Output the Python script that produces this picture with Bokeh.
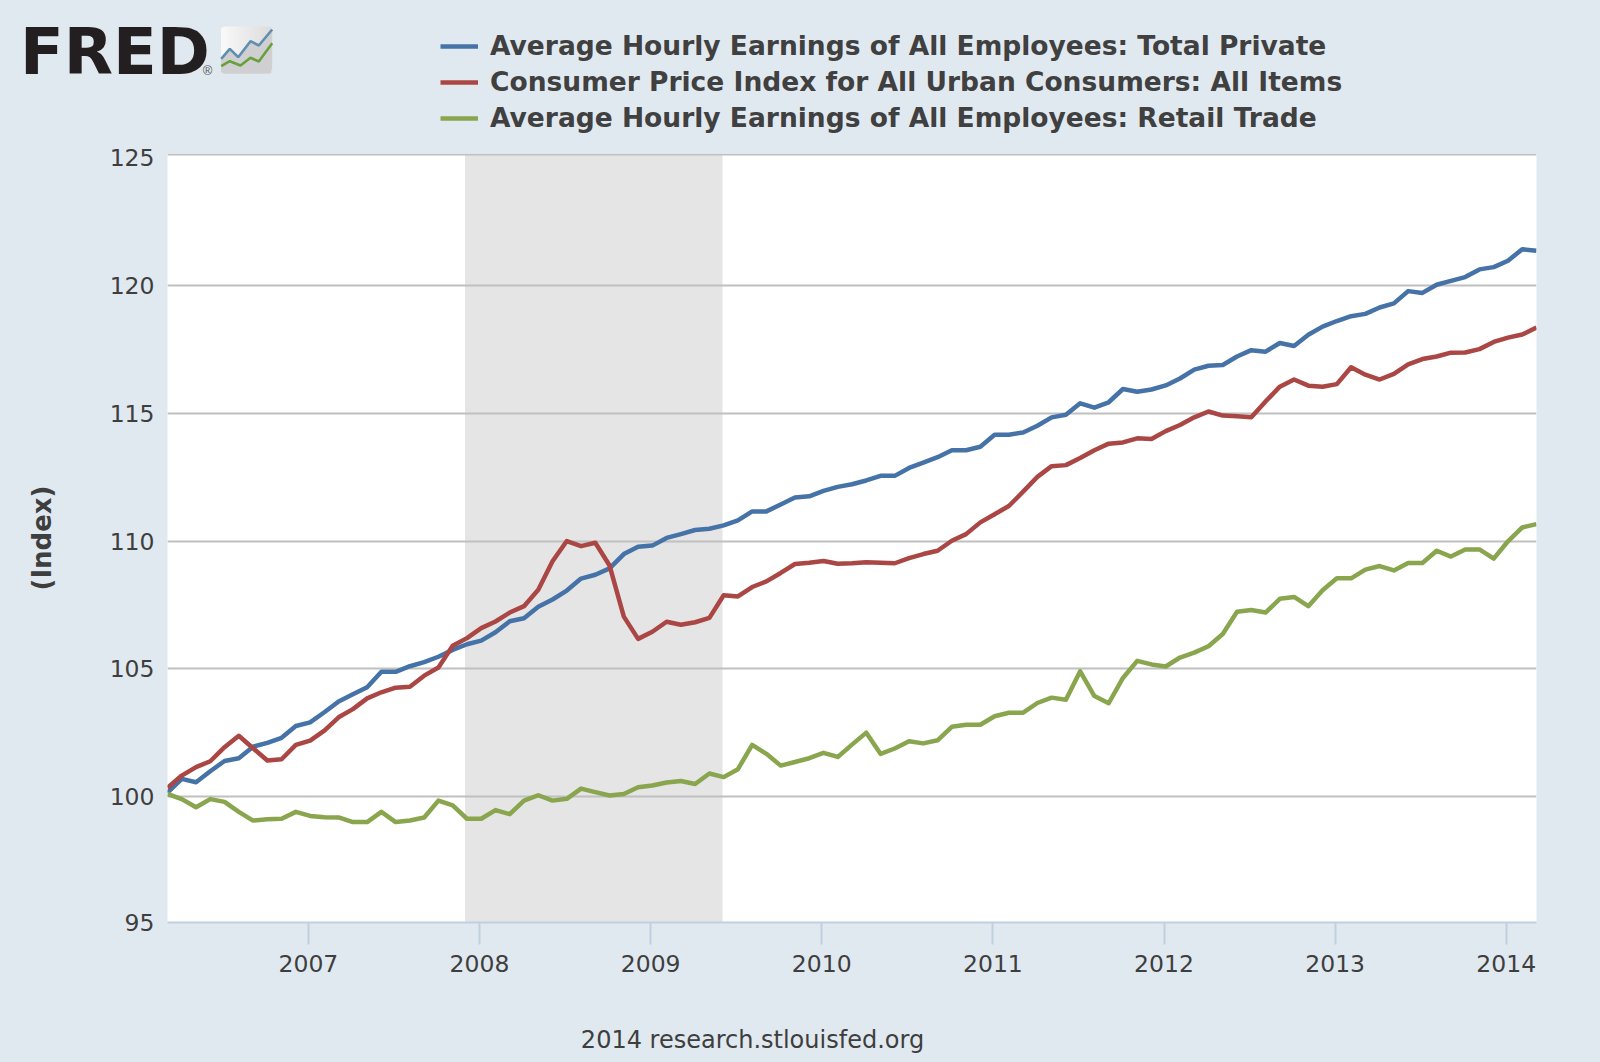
import numpy as np
from bokeh.plotting import figure
from bokeh.embed import file_html
from bokeh.resources import INLINE
from bokeh.core.properties import value
from bokeh.models import Range1d, FixedTicker, Legend, LegendItem

# ---- data (monthly index values, first point at the left edge of the chart)
TOTAL_PRIVATE = [
    100.15,100.69,100.56,100.99,101.39,101.50,101.95,102.10,102.30,102.76,
    102.90,103.30,103.72,104.00,104.28,104.88,104.88,105.10,105.26,105.47,
    105.74,105.96,106.10,106.43,106.86,106.98,107.43,107.71,108.06,108.53,
    108.68,108.93,109.49,109.78,109.82,110.12,110.27,110.43,110.48,110.61,
    110.81,111.16,111.16,111.43,111.70,111.75,111.96,112.12,112.22,112.37,
    112.55,112.55,112.86,113.07,113.28,113.55,113.55,113.69,114.16,114.16,
    114.25,114.51,114.84,114.94,115.39,115.22,115.43,115.95,115.84,115.93,
    116.09,116.36,116.71,116.86,116.89,117.22,117.47,117.41,117.75,117.63,
    118.07,118.39,118.61,118.80,118.89,119.14,119.30,119.78,119.71,120.03,
    120.18,120.33,120.63,120.72,120.97,121.42,121.36]
CPI_ALL = [
    100.34,100.82,101.15,101.38,101.93,102.38,101.89,101.41,101.46,102.02,
    102.19,102.58,103.10,103.42,103.84,104.08,104.26,104.30,104.73,105.05,
    105.90,106.20,106.59,106.85,107.20,107.45,108.09,109.21,110.00,109.80,
    109.93,109.04,107.04,106.17,106.45,106.84,106.72,106.82,106.99,107.88,
    107.83,108.20,108.42,108.75,109.10,109.15,109.22,109.11,109.13,109.17,
    109.15,109.13,109.33,109.49,109.62,110.01,110.27,110.73,111.05,111.37,
    111.93,112.51,112.93,112.97,113.25,113.55,113.81,113.86,114.02,113.99,
    114.30,114.54,114.84,115.07,114.91,114.88,114.84,115.46,116.04,116.32,
    116.08,116.04,116.14,116.80,116.51,116.32,116.54,116.91,117.12,117.22,
    117.37,117.38,117.51,117.79,117.96,118.08,118.36]
RETAIL = [
    100.10,99.90,99.58,99.90,99.79,99.40,99.06,99.11,99.13,99.40,
    99.24,99.19,99.18,99.00,99.00,99.40,99.00,99.06,99.18,99.84,
    99.65,99.13,99.13,99.47,99.31,99.84,100.05,99.84,99.91,100.31,
    100.17,100.04,100.10,100.36,100.43,100.55,100.61,100.49,100.90,100.76,
    101.07,102.02,101.67,101.21,101.35,101.50,101.71,101.55,102.03,102.50,
    101.67,101.88,102.16,102.08,102.20,102.73,102.81,102.81,103.14,103.28,
    103.28,103.66,103.87,103.79,104.90,103.93,103.65,104.64,105.31,105.17,
    105.09,105.44,105.63,105.88,106.36,107.23,107.30,107.20,107.74,107.81,
    107.45,108.07,108.54,108.54,108.88,109.02,108.85,109.14,109.14,109.62,
    109.39,109.67,109.67,109.31,109.99,110.53,110.66]
YEARS = [2007, 2008, 2009, 2010, 2011, 2012, 2013, 2014]
RECESSION = [2007.915, 2009.42]
SERIES_NAMES = ["Average Hourly Earnings of All Employees: Total Private",
                "Consumer Price Index for All Urban Consumers: All Items",
                "Average Hourly Earnings of All Employees: Retail Trade"]
COLORS = ["#4572a7", "#aa4643", "#89a54e"]

BG = "#e1e9f0"
FONT = "DejaVu Sans"
TXT = "#3e3e3e"
LINE_W = 4.5

# value axis: the chart's top line sits slightly above 125 and its base slightly above 95
Y_BOTTOM, Y_TOP = 95.07, 125.166
AXIS_TICKS = {95.08: "95", 100: "100", 105: "105", 110: "110", 115: "115", 120: "120", 125: "125"}
GRID_TICKS = [100, 105, 110, 115, 120, 125.115]

def year_to_x(y):
    return (y - 2006) * 12 - 2.12

def blank(height):
    f = figure(width=1600, height=height, output_backend="svg", toolbar_location=None,
               x_range=Range1d(0, 1600), y_range=Range1d(height, 0),
               x_axis_location=None, y_axis_location=None,
               min_border=0, outline_line_color=None,
               background_fill_color=BG, border_fill_color=BG)
    f.grid.visible = False
    return f

# ---- header: logo and legend
HEAD_H = 140
head = blank(HEAD_H)

# logo icon
ix0, ix1, iy0, iy1, rad = 220.7, 271.7, 26.0, 73.3, 4.0
blue_x = [220.7, 229.3, 237.7, 250.0, 258.3, 271.7]
blue_y = [58.3, 48.3, 56.7, 40.7, 45.0, 29.0]
green_x = [220.7, 229.3, 240.0, 250.0, 258.3, 271.7]
green_y = [65.7, 60.7, 65.0, 57.3, 61.0, 42.7]
edges = np.arange(ix0, ix1, 2.0)
for e in edges:
    c = e + 1.0
    d = min(c - ix0, ix1 - c)
    inset = rad - np.sqrt(max(rad**2 - (rad - d)**2, 0)) if d < rad else 0.0
    t = (c - ix0) / (ix1 - ix0)
    g = int(250 - 30 * t)
    split = float(np.interp(c, blue_x, blue_y))
    head.quad(left=[e - 0.15], right=[min(e + 2.15, ix1)], top=[iy0 + inset], bottom=[split],
              fill_color=f"#{g:02x}{g:02x}{g:02x}", line_color=None)
    head.quad(left=[e - 0.15], right=[min(e + 2.15, ix1)], top=[split], bottom=[iy1 - inset],
              fill_color="#cfcfd1", line_color=None)
head.line(blue_x, blue_y, line_color="#5f8fae", line_width=2.6)
head.line(green_x, green_y, line_color="#6aa03c", line_width=2.6)

head.text(x=[19.5], y=[51.2], text=["FRED"], text_font=value("DejaVu Sans"),
          text_font_style="bold", text_font_size="64px", text_color="#231f20",
          text_align="left", text_baseline="alphabetic")
head.text(x=[207], y=[70], text=["®"], text_font=value("Liberation Sans"),
          text_font_size="13px", text_color="#555555",
          text_align="center", text_baseline="middle")

items = []
for name, col in zip(SERIES_NAMES, COLORS):
    r = head.line([float("nan")] * 2, [float("nan")] * 2, line_color=col, line_width=LINE_W)
    items.append(LegendItem(label=name, renderers=[r]))
legend = Legend(items=items, location=(440, 7), orientation="vertical",
                background_fill_alpha=0, border_line_color=None, margin=0, padding=0, spacing=5,
                glyph_width=38, glyph_height=26, label_height=26, label_standoff=12,
                label_text_font=FONT, label_text_font_style="bold", label_text_font_size="26.5px",
                label_text_color="#404040")
head.add_layout(legend, "center")

# ---- main chart
months = list(range(len(TOTAL_PRIVATE)))
p = figure(width=1600, height=845, output_backend="svg", toolbar_location=None,
           x_range=Range1d(0, 96), y_range=Range1d(Y_BOTTOM, Y_TOP),
           min_border_left=167, min_border_right=64, min_border_top=13, min_border_bottom=63,
           background_fill_color="white", border_fill_color=BG, outline_line_color=None)

p.xgrid.visible = False
p.ygrid.grid_line_color = "#c0c0c0"
p.ygrid.grid_line_width = 2
p.ygrid.ticker = FixedTicker(ticks=GRID_TICKS)

p.yaxis.ticker = FixedTicker(ticks=list(AXIS_TICKS))
p.yaxis.major_label_overrides = AXIS_TICKS
p.yaxis.axis_line_color = None
p.yaxis.major_tick_line_color = None
p.yaxis.minor_tick_line_color = None
p.yaxis.major_label_text_font = FONT
p.yaxis.major_label_text_font_size = "23.5px"
p.yaxis.major_label_text_color = TXT
p.yaxis.major_label_standoff = 7
p.yaxis.axis_label = "(Index)"
p.yaxis.axis_label_text_font = FONT
p.yaxis.axis_label_text_font_size = "26px"
p.yaxis.axis_label_text_font_style = "bold"
p.yaxis.axis_label_text_color = TXT
p.yaxis.axis_label_standoff = 50

tick_x = [year_to_x(y) for y in YEARS]
p.xaxis.ticker = FixedTicker(ticks=tick_x)
p.xaxis.major_label_overrides = {x: str(y) for x, y in zip(tick_x, YEARS)}
p.xaxis.axis_line_color = "#c0d0e0"
p.xaxis.axis_line_width = 2
p.xaxis.major_tick_line_color = "#c0d0e0"
p.xaxis.major_tick_line_width = 2
p.xaxis.major_tick_in = 0
p.xaxis.major_tick_out = 22
p.xaxis.minor_tick_line_color = None
p.xaxis.major_label_text_font = FONT
p.xaxis.major_label_text_font_size = "23.5px"
p.xaxis.major_label_text_color = TXT
p.xaxis.major_label_standoff = 10

p.quad(left=[year_to_x(RECESSION[0])], right=[year_to_x(RECESSION[1])], bottom=[Y_BOTTOM], top=[Y_TOP],
       fill_color="#e5e5e5", line_color=None, level="image")

for vals, col in zip([TOTAL_PRIVATE, CPI_ALL, RETAIL], COLORS):
    p.line(months, vals, line_color=col, line_width=LINE_W, line_join="round")

# ---- footer
foot = blank(77)
foot.text(x=[752], y=[54], text=["2014 research.stlouisfed.org"], text_font=value(FONT),
          text_font_size="24px", text_color=TXT, text_align="center", text_baseline="middle")

html = file_html([head, p, foot], INLINE)
html = html.replace("<body>", '<body style="background:#e1e9f0">')
open("out.html", "w").write(html)
